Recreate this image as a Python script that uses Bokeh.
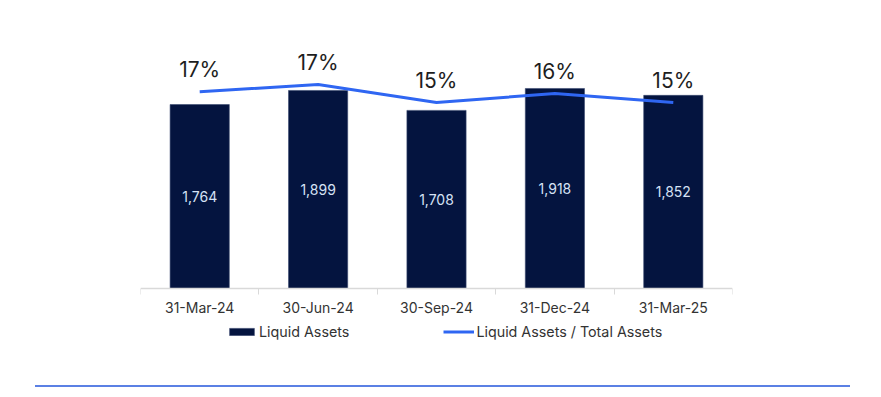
from bokeh.plotting import figure
from bokeh.models import (ColumnDataSource, Range1d, FixedTicker, Legend, LegendItem, Div)
from bokeh.layouts import column
from bokeh.core.properties import value
from bokeh.embed import file_html
from bokeh.resources import INLINE

categories = ["31-Mar-24", "30-Jun-24", "30-Sep-24", "31-Dec-24", "31-Mar-25"]
liquid_assets = [1764, 1899, 1708, 1918, 1852]
ratio_pct = [16.6, 17.4, 15.4, 16.4, 15.4]

xs = [i + 0.5 for i in range(len(categories))]
src = ColumnDataSource(dict(
    x=xs, la=liquid_assets, la_mid=[v / 2 for v in liquid_assets],
    la_lbl=[f"{v:,}" for v in liquid_assets],
    r=ratio_pct, r_lbl=[f"{round(v)}%" for v in ratio_pct],
))

FONT = "Inter"
p = figure(width=873, height=360, output_backend="svg", toolbar_location=None,
           x_range=Range1d(0, 5), y_range=Range1d(-613.6, 2378),
           min_border_left=140, min_border_right=141, min_border_top=40,
           min_border_bottom=8)
p.extra_y_ranges = {"pct": Range1d(-12.38, 22.29)}
p.outline_line_color = None
p.xgrid.visible = False
p.ygrid.visible = False
p.yaxis.visible = False

bars = p.vbar(x="x", top="la", width=0.5, source=src, fill_color="#04143f",
              line_color="#3a4a70", line_width=0.6)
ln = p.line(x="x", y="r", source=src, y_range_name="pct", line_color="#2f66f2", line_width=3)

p.text(x="x", y="la_mid", text="la_lbl", source=src, text_align="center",
       text_baseline="middle", text_color="#d6e2f5", text_font=value(FONT),
       text_font_size="14px")
p.text(x="x", y="r", text="r_lbl", source=src, y_range_name="pct", text_align="center",
       text_baseline="bottom", y_offset=-10, text_color="#1e1e1e", text_font=value(FONT),
       text_font_size="21px")

xa = p.xaxis[0]
xa.fixed_location = 0
xa.ticker = FixedTicker(ticks=xs, minor_ticks=[0, 1, 2, 3, 4, 5])
xa.major_label_overrides = {x: c for x, c in zip(xs, categories)}
xa.major_tick_line_color = None
xa.minor_tick_in = 0
xa.minor_tick_out = 6
xa.minor_tick_line_color = "#d9d9d9"
xa.axis_line_color = "#d9d9d9"
xa.axis_line_width = 1.5
xa.major_label_text_font = FONT
xa.major_label_text_font_size = "14px"
xa.major_label_text_color = "#333333"
xa.major_label_standoff = 4

legend = Legend(items=[LegendItem(label="Liquid Assets", renderers=[bars]),
                       LegendItem(label="Liquid Assets / Total Assets", renderers=[ln])],
                orientation="horizontal", location=(86, 12),
                label_text_font=FONT, label_text_font_size="14.3px", label_text_color="#333333",
                glyph_width=31, glyph_height=9, label_standoff=2, spacing=94,
                border_line_color=None, background_fill_alpha=0, padding=2, margin=0)
p.add_layout(legend, "center")

div = Div(width=815, height=2, styles={"background-color": "#5b80e4"},
          margin=(25, 0, 0, 35))
layout = column(p, div, spacing=0)
open("out.html", "w").write(file_html(layout, INLINE))
